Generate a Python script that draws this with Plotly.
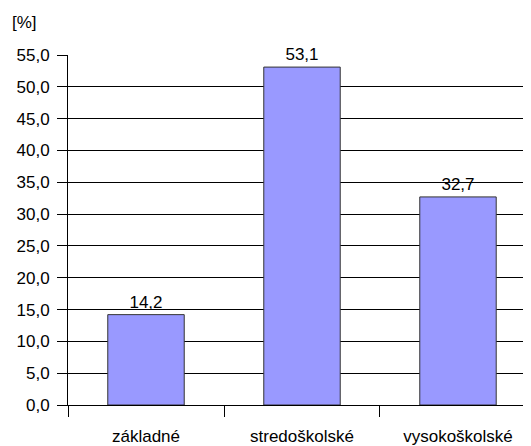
import plotly.graph_objects as go

categories = ["základné", "stredoškolské", "vysokoškolské"]
values = [14.2, 53.1, 32.7]
value_labels = ["14,2", "53,1", "32,7"]
y_unit = "[%]"

FONT = "Liberation Sans, Arial"
FS = 17

fig = go.Figure(go.Bar(
    x=categories, y=values, text=value_labels, textposition="outside",
    textfont=dict(family=FONT, size=FS, color="black"),
    marker=dict(color="#9999FF", line=dict(color="#333333", width=1)),
    width=0.49, cliponaxis=False,
))

fig.update_layout(
    width=523, height=438,
    margin=dict(l=60, r=0, t=47, b=39),
    paper_bgcolor="white", plot_bgcolor="white",
    separators=", ",
    font=dict(family=FONT, size=FS, color="black"),
    showlegend=False,
    xaxis=dict(
        type="category", range=[-0.5, 2.468], showgrid=False,
        showline=True, linecolor="black", linewidth=1,
        ticks="outside", tickson="boundaries", ticklen=11, tickcolor="black",
        ticklabelstandoff=16, tickfont=dict(size=FS),
    ),
    yaxis=dict(
        range=[0, 55], dtick=5, tickformat=".1f",
        showgrid=True, gridcolor="black", gridwidth=1,
        showline=True, linecolor="black", linewidth=1,
        ticks="outside", ticklen=10, tickcolor="black",
        ticklabelstandoff=4,
        zeroline=False, tickfont=dict(size=FS),
    ),
    annotations=[dict(text=y_unit, xref="paper", yref="paper", x=-0.1253, y=1.094,
                      xanchor="left", yanchor="middle", showarrow=False,
                      font=dict(size=FS))],
)

fig.write_html("out.html")
